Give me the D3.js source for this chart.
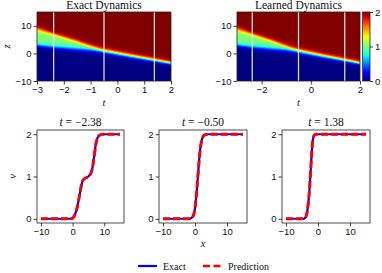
<!DOCTYPE html>
<html lang="en">
<head>
<meta charset="UTF-8">
<title>Exact vs Learned Dynamics</title>
<script src="https://d3js.org/d3.v7.min.js"></script>
<style>
    body { margin: 0; background: #fff; }
    svg { display: block; font-family: "Liberation Serif", serif; }
    .tick text { font-size: 9.5px; fill: #111; }
    .tick line { stroke: #111; stroke-width: 0.8; }
    .domain { display: none; }
</style>
</head>
<body>
<svg></svg>
<script>
    const width = 382, height = 273;

    // heatmap domain
    const tDomain = [-3, 2];
    const zDomain = [-10, 15];

    // front positions (two fronts merge near t = -0.5)
    const frontT = [-3, -2.38, -1.5, -0.5, 0.5, 1.38, 2];
    const lowerFront = [3.0, 2.3, 1.6, 0.9, -0.9, -2.4, -3.5];
    const upperFront = [8.8, 7.0, 4.4, 0.9, -0.9, -2.4, -3.5];
    const lowerWidth = [0.4, 0.5, 0.5, 0.5, 0.45, 0.4, 0.38];
    const upperWidth = [0.55, 0.38, 0.4, 0.5, 0.45, 0.4, 0.38];

    // snapshot times and profiles
    const snapTimes = [-2.38, -0.50, 1.38];
    const snapX = [
        [-10, -1, 0, 0.5, 1.0, 1.6, 2.0, 2.4, 2.8, 3.2, 3.8, 4.6, 5.4, 6.0, 6.5, 6.9, 7.3, 7.8, 8.4, 9.4, 15],
        [-10, -2, -1.1, -0.5, -0.1, 0.2, 0.5, 0.9, 1.3, 1.6, 2.0, 2.5, 3.2, 4, 15],
        [-10, -4.5, -3.9, -3.5, -3.1, -2.8, -2.4, -2.0, -1.7, -1.4, -1.0, -0.3, 15]
    ];
    const snapV = [
        [0, 0, 0.01, 0.06, 0.15, 0.32, 0.48, 0.64, 0.8, 0.9, 0.95, 0.98, 1.03, 1.12, 1.3, 1.52, 1.74, 1.9, 1.97, 2.0, 2.0],
        [0, 0, 0.02, 0.08, 0.2, 0.38, 0.62, 1.0, 1.38, 1.62, 1.82, 1.94, 1.99, 2.0, 2.0],
        [0, 0, 0.03, 0.12, 0.32, 0.55, 1.0, 1.5, 1.8, 1.94, 1.99, 2.0, 2.0]
    ];

    const colorTicks = [0, 1, 2];

    const svg = d3.select("svg").attr("width", width).attr("height", height);

    // matplotlib jet
    const jetR = d3.scaleLinear().domain([0, 0.35, 0.66, 0.89, 1]).range([0, 0, 1, 1, 0.5]).clamp(true);
    const jetG = d3.scaleLinear().domain([0, 0.125, 0.375, 0.64, 0.91, 1]).range([0, 0, 1, 1, 0, 0]).clamp(true);
    const jetB = d3.scaleLinear().domain([0, 0.11, 0.34, 0.65, 1]).range([0.5, 1, 1, 0, 0]).clamp(true);
    const jet = v => {
        const x = v / 2;
        return d3.rgb(jetR(x) * 255, jetG(x) * 255, jetB(x) * 255).toString();
    };

    const lowerC = d3.scaleLinear().domain(frontT).range(lowerFront);
    const upperC = d3.scaleLinear().domain(frontT).range(upperFront);
    const lowerW = d3.scaleLinear().domain(frontT).range(lowerWidth);
    const upperW = d3.scaleLinear().domain(frontT).range(upperWidth);
    const sig = s => 1 / (1 + Math.exp(-s));
    const field = (t, z) => sig((z - lowerC(t)) / lowerW(t)) + sig((z - upperC(t)) / upperW(t));

    function heatPanel(box, title, tickVals) {
        const x = d3.scaleLinear().domain(tDomain).range([box.x0, box.x1]);
        const y = d3.scaleLinear().domain(zDomain).range([box.y1, box.y0]);
        const g = svg.append("g");
        const nx = Math.round(box.x1 - box.x0), ny = Math.round(box.y1 - box.y0);
        const cells = [];
        for (let i = 0; i < nx; i++) {
            const t = x.invert(box.x0 + i + 0.5);
            for (let j = 0; j < ny; j++) {
                const z = y.invert(box.y0 + j + 0.5);
                cells.push({ i, j, v: field(t, z) });
            }
        }
        g.append("g").selectAll("rect")
            .data(cells)
            .enter().append("rect")
            .attr("x", d => box.x0 + d.i)
            .attr("y", d => box.y0 + d.j)
            .attr("width", 1.05)
            .attr("height", 1.05)
            .attr("fill", d => jet(d.v))
            .attr("shape-rendering", "crispEdges");

        g.selectAll("line.snap")
            .data(snapTimes)
            .enter().append("line")
            .attr("class", "snap")
            .attr("x1", d => x(d)).attr("x2", d => x(d))
            .attr("y1", box.y0).attr("y2", box.y1)
            .attr("stroke", "#fff")
            .attr("stroke-opacity", 0.85)
            .attr("stroke-width", 1.3);

        g.append("rect")
            .attr("x", box.x0).attr("y", box.y0)
            .attr("width", box.x1 - box.x0).attr("height", box.y1 - box.y0)
            .attr("fill", "none").attr("stroke", "#222").attr("stroke-width", 0.8);

        g.append("g").attr("transform", `translate(0,${box.y1})`)
            .call(d3.axisBottom(x).tickValues(tickVals).tickSize(3.5).tickPadding(2)
                .tickFormat(d => d3.format("d")(d).replace("-", "\u2212")));
        g.append("g").attr("transform", `translate(${box.x0},0)`)
            .call(d3.axisLeft(y).tickValues([-10, 0, 10]).tickSize(3.5).tickPadding(2)
                .tickFormat(d => d3.format("d")(d).replace("-", "\u2212")));

        svg.append("text").attr("x", (box.x0 + box.x1) / 2).attr("y", 9)
            .attr("text-anchor", "middle").attr("font-size", 11.5).attr("fill", "#111")
            .text(title);
        svg.append("text").attr("x", (box.x0 + box.x1) / 2).attr("y", 106)
            .attr("text-anchor", "middle").attr("font-size", 10.5).attr("font-style", "italic")
            .attr("fill", "#111").text("t");
    }

    heatPanel({ x0: 37, x1: 171, y0: 12, y1: 81 }, "Exact Dynamics", [-3, -2, -1, 0, 1, 2]);
    heatPanel({ x0: 237, x1: 360, y0: 12, y1: 81 }, "Learned Dynamics", [-2, 0, 2]);

    svg.append("text").attr("transform", "translate(10,46.5) rotate(-90)")
        .attr("text-anchor", "middle").attr("font-size", 10.5).attr("font-style", "italic")
        .attr("fill", "#111").text("z");

    // colorbar
    const cb = { x0: 362.5, x1: 370, y0: 12, y1: 81 };
    const cy = d3.scaleLinear().domain([0, 2]).range([cb.y1, cb.y0]);
    const cbSteps = d3.range(Math.round(cb.y1 - cb.y0));
    svg.append("g").selectAll("rect")
        .data(cbSteps)
        .enter().append("rect")
        .attr("x", cb.x0).attr("width", cb.x1 - cb.x0)
        .attr("y", d => cb.y0 + d).attr("height", 1.05)
        .attr("fill", d => jet(cy.invert(cb.y0 + d + 0.5)))
        .attr("shape-rendering", "crispEdges");
    svg.append("rect").attr("x", cb.x0).attr("y", cb.y0)
        .attr("width", cb.x1 - cb.x0).attr("height", cb.y1 - cb.y0)
        .attr("fill", "none").attr("stroke", "#222").attr("stroke-width", 0.8);
    svg.append("g").attr("transform", `translate(${cb.x1},0)`)
        .call(d3.axisRight(cy).tickValues(colorTicks).tickSize(3).tickPadding(2).tickFormat(d3.format("d")));

    // snapshot panels
    const xDom = [-11.25, 16.25], vDom = [-0.1, 2.1];
    const boxes = [
        { x0: 37, x1: 124 },
        { x0: 159, x1: 247 },
        { x0: 282, x1: 370 }
    ];
    const py0 = 130, py1 = 223;

    boxes.forEach((b, k) => {
        const x = d3.scaleLinear().domain(xDom).range([b.x0, b.x1]);
        const y = d3.scaleLinear().domain(vDom).range([py1, py0]);
        const g = svg.append("g");
        const pts = snapX[k].map((xv, i) => [xv, snapV[k][i]]);
        const line = d3.line().x(d => x(d[0])).y(d => y(d[1])).curve(d3.curveMonotoneX);

        g.append("path").datum(pts).attr("d", line)
            .attr("fill", "none").attr("stroke", "#0000ff").attr("stroke-width", 2.2);
        g.append("path").datum(pts).attr("d", line)
            .attr("fill", "none").attr("stroke", "#ff0000").attr("stroke-width", 3)
            .attr("stroke-dasharray", "7,3");

        g.append("rect").attr("x", b.x0).attr("y", py0)
            .attr("width", b.x1 - b.x0).attr("height", py1 - py0)
            .attr("fill", "none").attr("stroke", "#222").attr("stroke-width", 0.8);

        g.append("g").attr("transform", `translate(0,${py1})`)
            .call(d3.axisBottom(x).tickValues([-10, 0, 10]).tickSize(3.5).tickPadding(2)
                .tickFormat(d => d3.format("d")(d).replace("-", "\u2212")));
        g.append("g").attr("transform", `translate(${b.x0},0)`)
            .call(d3.axisLeft(y).tickValues([0, 1, 2]).tickSize(3.5).tickPadding(2).tickFormat(d3.format("d")));

        const title = g.append("text").attr("x", (b.x0 + b.x1) / 2).attr("y", 126)
            .attr("text-anchor", "middle").attr("font-size", 11.5).attr("fill", "#111");
        title.append("tspan").attr("font-style", "italic").text("t");
        title.append("tspan").text(" = " + d3.format(".2f")(snapTimes[k]).replace("-", "\u2212"));
    });

    svg.append("text").attr("transform", "translate(16,176.5) rotate(-90)")
        .attr("text-anchor", "middle").attr("font-size", 10.5).attr("font-style", "italic")
        .attr("fill", "#111").text("v");
    svg.append("text").attr("x", 203).attr("y", 247)
        .attr("text-anchor", "middle").attr("font-size", 10.5).attr("font-style", "italic")
        .attr("fill", "#111").text("x");

    // legend
    const legend = svg.append("g").attr("font-size", 10);
    legend.append("line").attr("x1", 138).attr("x2", 157).attr("y1", 266).attr("y2", 266)
        .attr("stroke", "#0000ff").attr("stroke-width", 2.2);
    legend.append("text").attr("x", 163).attr("y", 269.5).attr("fill", "#111").text("Exact");
    legend.append("line").attr("x1", 203).attr("x2", 221).attr("y1", 266).attr("y2", 266)
        .attr("stroke", "#ff0000").attr("stroke-width", 2.5).attr("stroke-dasharray", "7,3.5");
    legend.append("text").attr("x", 228).attr("y", 269.5).attr("fill", "#111").text("Prediction");
</script>
</body>
</html>
